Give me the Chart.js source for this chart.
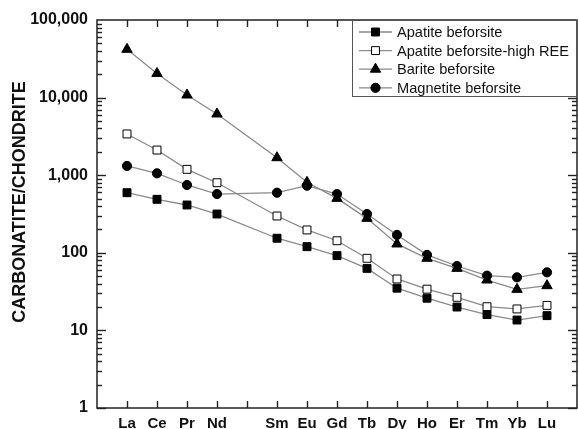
<!DOCTYPE html>
<html>
<head>
<meta charset="utf-8">
<title>REE patterns</title>
<script src="https://cdn.jsdelivr.net/npm/chart.js@4.4.0/dist/chart.umd.min.js"></script>
<style>
  html, body { margin: 0; padding: 0; background: #fff; }
  canvas { display: block; }
</style>
</head>
<body>
<canvas id="reeCanvas" width="578" height="429"></canvas>
<script>
// REE, chondrite normalised; x position is the atomic number (Pm left empty)
const elements = ["La", "Ce", "Pr", "Nd", "Sm", "Eu", "Gd", "Tb", "Dy", "Ho", "Er", "Tm", "Yb", "Lu"];
const atomicNo = [57, 58, 59, 60, 62, 63, 64, 65, 66, 67, 68, 69, 70, 71];

const apatite     = [595, 489, 413, 316, 154, 120, 92, 63, 35, 26, 20, 16, 13.6, 15.5];
const apatiteHigh = [3400, 2110, 1190, 800, 298, 197, 143, 85, 46, 34, 26.7, 20.2, 18.9, 21];
const barite      = [41900, 20500, 10800, 6150, 1680, 810, 503, 278, 130, 85, 63, 44.6, 33.8, 37.7];
const magnetite   = [1315, 1057, 748, 572, 595, 732, 572, 316, 170, 94, 67.6, 50.7, 48.3, 56];

const decades = [1, 10, 100, 1000, 10000, 100000];

const FONT = 'Arial, "Liberation Sans", sans-serif';
const LINE = "#8a8a8a";

function pts(vals) {
  return vals.map((v, i) => ({ x: atomicNo[i], y: v }));
}

function series(label, vals, style, radius, fill) {
  return {
    label: label,
    data: pts(vals),
    borderColor: LINE,
    borderWidth: 1.3,
    pointStyle: style,
    pointRadius: radius,
    pointHoverRadius: radius,
    pointBackgroundColor: fill,
    pointBorderColor: "#000",
    pointBorderWidth: 1,
    tension: 0,
  };
}

const datasets = [
  series("Apatite beforsite", apatite, "rect", 5.6, "#000"),
  series("Apatite beforsite-high REE", apatiteHigh, "rect", 5.6, "#fff"),
  series("Barite beforsite", barite, "triangle", 6, "#000"),
  series("Magnetite beforsite", magnetite, "circle", 4.6, "#000"),
];

function marker(ctx, ds, cx, cy) {
  const r = ds.pointRadius;
  ctx.fillStyle = ds.pointBackgroundColor;
  ctx.strokeStyle = "#000";
  ctx.lineWidth = 1;
  ctx.beginPath();
  if (ds.pointStyle === "rect") {
    const s = r * Math.SQRT1_2;
    ctx.rect(cx - s, cy - s, 2 * s, 2 * s);
  } else if (ds.pointStyle === "circle") {
    ctx.arc(cx, cy, r, 0, Math.PI * 2);
  } else {
    const h = r * Math.sin(Math.PI * 2 / 3);
    ctx.moveTo(cx, cy - r);
    ctx.lineTo(cx + h, cy + r / 2);
    ctx.lineTo(cx - h, cy + r / 2);
    ctx.closePath();
  }
  ctx.fill();
  ctx.stroke();
}

function seg(ctx, x0, y0, x1, y1) {
  ctx.beginPath();
  ctx.moveTo(x0, y0);
  ctx.lineTo(x1, y1);
  ctx.stroke();
}

// box round the plot, inward ticks on all four sides, y title and legend
const frame = {
  id: "frame",
  afterDraw(chart) {
    const ctx = chart.ctx;
    const a = chart.chartArea;
    const x = chart.scales.x;
    const y = chart.scales.y;
    ctx.save();

    ctx.strokeStyle = "#222";
    ctx.lineWidth = 1.4;
    for (let n = 57; n <= 71; n++) {
      const px = Math.round(x.getPixelForValue(n)) + 0.5;
      seg(ctx, px, a.bottom, px, a.bottom - 7);
      seg(ctx, px, a.top, px, a.top + 7);
    }
    for (let d = 0; d < decades.length - 1; d++) {
      for (let m = 1; m <= 9; m++) {
        const py = Math.round(y.getPixelForValue(m * decades[d])) + 0.5;
        const len = m === 1 ? 9 : 5;
        seg(ctx, a.left, py, a.left + len, py);
        seg(ctx, a.right, py, a.right - len, py);
      }
    }

    ctx.lineWidth = 1.5;
    ctx.strokeRect(a.left, a.top, a.right - a.left, a.bottom - a.top);

    // y axis title
    ctx.fillStyle = "#111";
    ctx.font = "bold 18px " + FONT;
    ctx.textAlign = "center";
    ctx.textBaseline = "middle";
    ctx.translate(20, 202);
    ctx.rotate(-Math.PI / 2);
    ctx.fillText("CARBONATITE/CHONDRITE", 0, 0);
    ctx.setTransform(1, 0, 0, 1, 0, 0);

    // legend box in the upper right corner
    const lx = 352, ly = a.top, lw = a.right - 352, lh = 76;
    ctx.fillStyle = "#fff";
    ctx.fillRect(lx, ly, lw, lh);
    ctx.strokeStyle = "#555";
    ctx.lineWidth = 1;
    ctx.strokeRect(lx + 0.5, ly + 0.5, lw - 1, lh);
    ctx.font = "14.6px " + FONT;
    ctx.textAlign = "left";
    datasets.forEach((ds, i) => {
      const ry = ly + 12 + i * 18.6;
      ctx.strokeStyle = LINE;
      ctx.lineWidth = 1.3;
      seg(ctx, 359, ry, 392, ry);
      marker(ctx, ds, 375.5, ry);
      ctx.fillStyle = "#111";
      ctx.fillText(ds.label, 397, ry + 1);
    });

    ctx.restore();
  },
};

new Chart(document.getElementById("reeCanvas"), {
  type: "line",
  data: { datasets: datasets },
  options: {
    responsive: false,
    animation: false,
    layout: { autoPadding: false, padding: { top: 20, right: 1, left: 0, bottom: 0 } },
    plugins: { legend: { display: false }, tooltip: { enabled: false } },
    scales: {
      x: {
        type: "linear",
        min: 56,
        max: 72,
        afterFit: (s) => { s.height = 21; s.paddingLeft = 0; s.paddingRight = 0; },
        afterBuildTicks: (s) => { s.ticks = atomicNo.map((n) => ({ value: n })); },
        ticks: {
          autoSkip: false,
          maxRotation: 0,
          padding: 7,
          color: "#111",
          font: { family: FONT, size: 15, weight: "bold" },
          callback: (v) => elements[atomicNo.indexOf(v)] || "",
        },
        grid: { display: false, drawTicks: false },
        border: { display: false },
      },
      y: {
        type: "logarithmic",
        min: 1,
        max: 100000,
        afterFit: (s) => { s.width = 97; },
        afterBuildTicks: (s) => { s.ticks = decades.map((v) => ({ value: v })); },
        ticks: {
          autoSkip: false,
          padding: 9,
          color: "#111",
          font: { family: FONT, size: 16, weight: "bold" },
          callback: (v) => Number(v).toLocaleString("en-US"),
        },
        grid: { display: false, drawTicks: false },
        border: { display: false },
      },
    },
  },
  plugins: [frame],
});
</script>
</body>
</html>
